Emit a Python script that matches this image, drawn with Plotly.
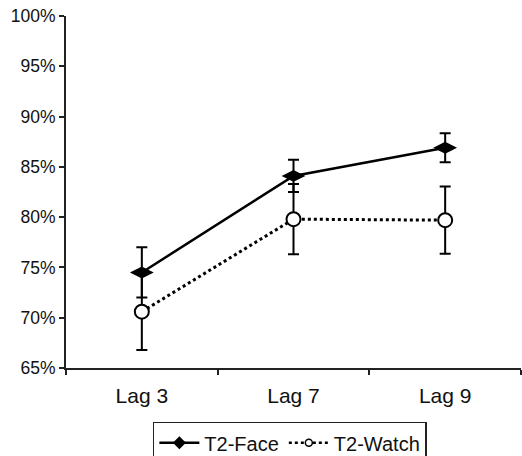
import plotly.graph_objects as go

categories = ["Lag 3", "Lag 7", "Lag 9"]
face_values = [74.5, 84.1, 86.9]
face_errors = [2.5, 1.6, 1.45]
watch_values = [70.6, 79.8, 79.7]
watch_errors = [3.8, 3.5, 3.35]
y_ticks = [65, 70, 75, 80, 85, 90, 95, 100]
y_tick_labels = ["65%", "70%", "75%", "80%", "85%", "90%", "95%", "100%"]

FONT = "Arial, Liberation Sans, sans-serif"

fig = go.Figure()
fig.add_trace(go.Scatter(
    x=categories, y=face_values, name="T2-Face", mode="lines+markers", showlegend=False,
    line=dict(color="black", width=2.5),
    marker=dict(symbol="diamond-wide", size=17, color="black"),
    error_y=dict(type="data", array=face_errors, color="black", thickness=2, width=5.5),
))
fig.add_trace(go.Scatter(
    x=categories, y=watch_values, name="T2-Watch", mode="lines+markers", showlegend=False,
    line=dict(color="black", width=3, dash="dot"),
    marker=dict(symbol="circle", size=14, color="white", line=dict(color="black", width=2)),
    error_y=dict(type="data", array=watch_errors, color="black", thickness=2, width=5.5),
))
# legend entries with smaller symbols, like the reference legend
fig.add_trace(go.Scatter(
    x=[None], y=[None], name="T2-Face", mode="lines+markers",
    line=dict(color="black", width=2.5),
    marker=dict(symbol="diamond", size=10, color="black"),
))
fig.add_trace(go.Scatter(
    x=[None], y=[None], name="T2-Watch", mode="lines+markers",
    line=dict(color="black", width=2.5, dash="dot"),
    marker=dict(symbol="circle", size=7, color="white", line=dict(color="black", width=1.5)),
))

fig.update_layout(
    width=522, height=456,
    margin=dict(l=66, r=1, t=16, b=88, autoexpand=False),
    paper_bgcolor="white", plot_bgcolor="white",
    font=dict(family=FONT, size=17, color="#111"),
    showlegend=True,
    legend=dict(
        orientation="h", x=0.492, xanchor="center", y=-0.153, yanchor="top",
        bordercolor="#222", borderwidth=1.5, font=dict(size=20),
        tracegroupgap=0, itemwidth=40,
    ),
    xaxis=dict(
        type="category", range=[-0.5, 2.5], showline=True, linecolor="#222", linewidth=2,
        ticks="outside", tickson="boundaries", ticklen=5, tickwidth=1.5, tickcolor="#222",
        showgrid=False, zeroline=False, automargin=False, tickfont=dict(size=21),
        ticklabelstandoff=8,
    ),
    yaxis=dict(
        range=[65, 100], tickvals=y_ticks, ticktext=y_tick_labels,
        showline=True, linecolor="#222", linewidth=2,
        ticks="outside", ticklen=5, tickwidth=1.5, tickcolor="#222",
        showgrid=False, zeroline=False, automargin=False, tickfont=dict(size=17.5),
    ),
)

fig.write_html(
    "out.html",
    config={"displayModeBar": False},
    post_script="document.body.style.margin='0';document.body.style.overflow='hidden';",
)
